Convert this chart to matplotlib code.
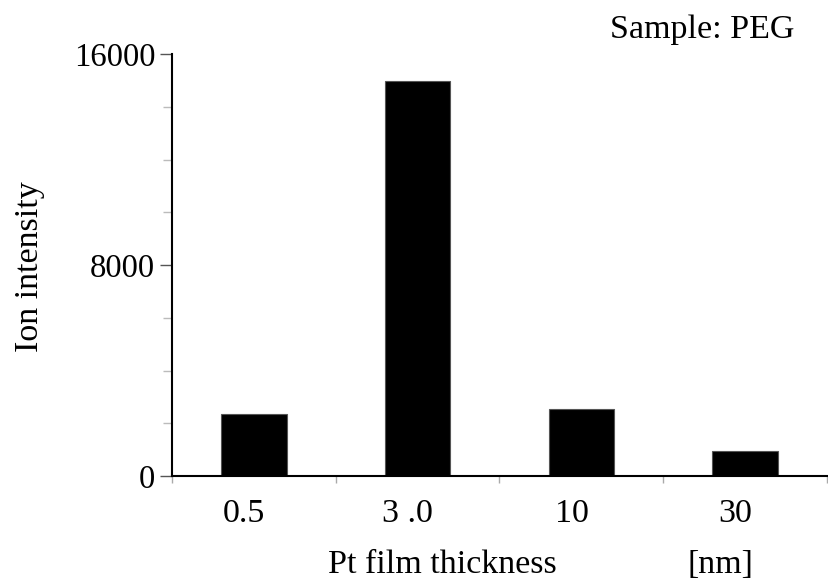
import matplotlib
matplotlib.use('Agg')
import matplotlib.pyplot as plt
from matplotlib.ticker import MultipleLocator

plt.rcParams['font.family'] = ['Liberation Serif', 'DejaVu Serif']

categories = ['0.5', '3 .0', '10', '30']
intensity = [2370, 14980, 2560, 960]

fig = plt.figure(figsize=(8.29, 5.82), dpi=100)
ax = fig.add_axes([0.2075, 0.182, 0.79, 0.725])

pos = [0.5, 1.5, 2.5, 3.5]
ax.bar(pos, intensity, width=0.4, color='black', edgecolor='#555555', linewidth=0.8)

ax.set_xlim(0, 4)
ax.set_ylim(0, 16000)
ax.yaxis.set_major_locator(MultipleLocator(8000))
ax.yaxis.set_minor_locator(MultipleLocator(2000))
ax.set_xticks([0, 1, 2, 3, 4])
ax.set_xticklabels([])
ax.tick_params(axis='x', direction='out', length=5, color='#aaaaaa', width=1)
ax.tick_params(axis='y', which='major', direction='out', length=8.6, color='#555555',
               width=1, labelsize=23.5, pad=3.5)
ax.tick_params(axis='y', which='minor', direction='out', length=6.5, color='#bbbbbb', width=1)

# category labels sit a little left of the bar centres in the original
for p, lab in zip(pos, categories):
    ax.text(p - 0.06, -0.11, lab, transform=ax.get_xaxis_transform(), ha='center',
            va='baseline', fontsize=24.5)

ax.spines['top'].set_visible(False)
ax.spines['right'].set_visible(False)
ax.spines['left'].set_linewidth(1.5)
ax.spines['bottom'].set_linewidth(1.5)

fig.text(38 / 829, 1 - 267 / 582, 'Ion intensity', rotation=90, rotation_mode='anchor',
         ha='center', va='baseline', fontsize=24.5)
fig.text(0.534, 1 - 573 / 582, 'Pt film thickness', ha='center', va='baseline', fontsize=24.5)
fig.text(0.869, 1 - 573 / 582, '[nm]', ha='center', va='baseline', fontsize=24.5)
fig.text(0.847, 1 - 38 / 582, 'Sample: PEG', ha='center', va='baseline', fontsize=24.5)

fig.savefig('out.png', dpi=100)
